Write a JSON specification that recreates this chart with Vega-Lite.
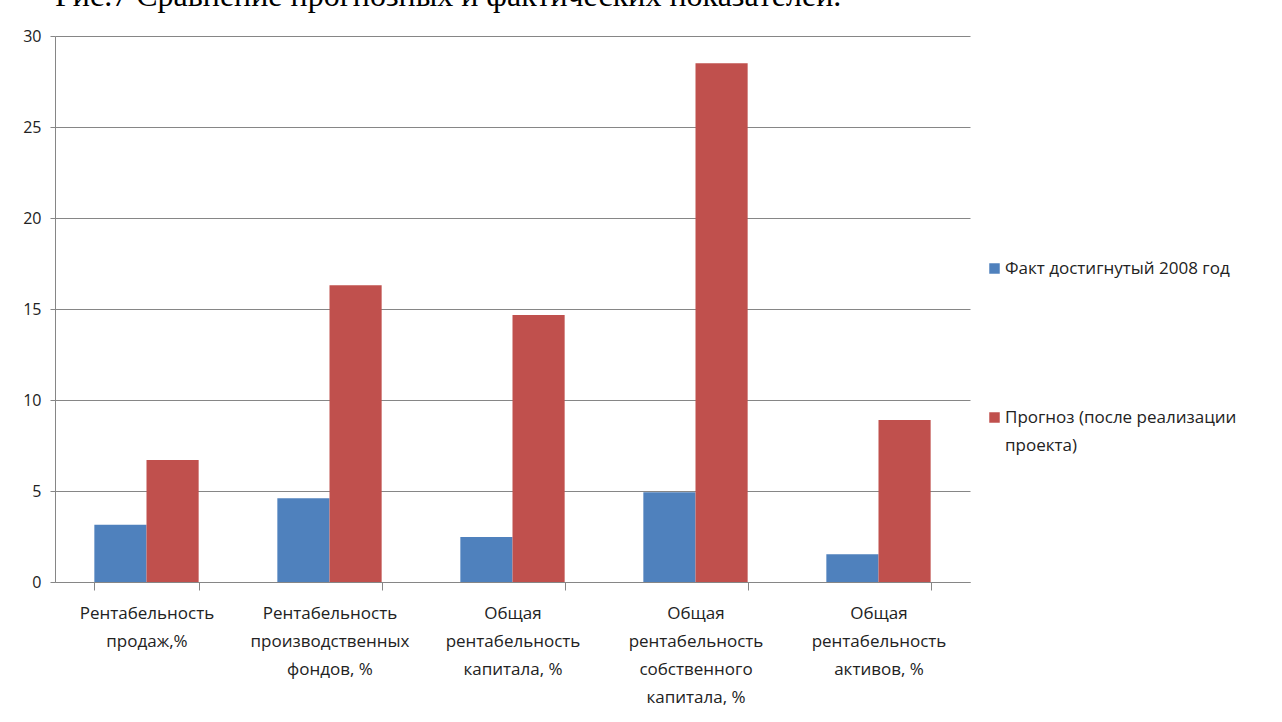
{
  "$schema": "https://vega.github.io/schema/vega-lite/v6.json",
  "autosize": "none",
  "width": 915,
  "height": 546,
  "padding": {"left": 55, "top": 36, "right": 312, "bottom": 140},
  "background": "white",
  "title": {
    "text": "Рис.7 Сравнение  прогнозных и фактических показателей.",
    "anchor": "start",
    "font": "Liberation Serif",
    "fontSize": 32,
    "fontWeight": "normal",
    "color": "#000000",
    "baseline": "alphabetic",
    "offset": -10,
    "frame": "group"
  },
  "data": {
    "values": [
      {"cat": "Рентабельность|продаж,%", "series": "Факт достигнутый 2008 год", "value": 3.15},
      {"cat": "Рентабельность|продаж,%", "series": "Прогноз (после реализации|проекта)", "value": 6.7},
      {"cat": "Рентабельность|производственных|фондов, %", "series": "Факт достигнутый 2008 год", "value": 4.6},
      {"cat": "Рентабельность|производственных|фондов, %", "series": "Прогноз (после реализации|проекта)", "value": 16.3},
      {"cat": "Общая|рентабельность|капитала, %", "series": "Факт достигнутый 2008 год", "value": 2.47},
      {"cat": "Общая|рентабельность|капитала, %", "series": "Прогноз (после реализации|проекта)", "value": 14.67},
      {"cat": "Общая|рентабельность|собственного|капитала, %", "series": "Факт достигнутый 2008 год", "value": 4.93},
      {"cat": "Общая|рентабельность|собственного|капитала, %", "series": "Прогноз (после реализации|проекта)", "value": 28.5},
      {"cat": "Общая|рентабельность|активов, %", "series": "Факт достигнутый 2008 год", "value": 1.53},
      {"cat": "Общая|рентабельность|активов, %", "series": "Прогноз (после реализации|проекта)", "value": 8.9}
    ]
  },
  "mark": {"type": "bar"},
  "encoding": {
    "x": {
      "field": "cat",
      "type": "nominal",
      "sort": null,
      "title": null,
      "scale": {"paddingInner": 0.43, "paddingOuter": 0.215},
      "axis": {
        "labelAngle": 0,
        "labelExpr": "split(datum.label, '|')",
        "labelFont": "Open Sans",
        "labelFontSize": 17,
        "labelColor": "#222222",
        "labelLineHeight": 28,
        "labelPadding": 15,
        "labelBaseline": "top",
        "labelLimit": 300,
        "tickBand": "extent",
        "tickSize": 8,
        "tickColor": "#868686",
        "domainColor": "#868686",
        "grid": false
      }
    },
    "xOffset": {"field": "series", "type": "nominal", "sort": null},
    "y": {
      "field": "value",
      "type": "quantitative",
      "title": null,
      "scale": {"domain": [0, 30], "nice": false},
      "axis": {
        "values": [0, 5, 10, 15, 20, 25, 30],
        "labelFont": "Open Sans",
        "labelFontSize": 16,
        "labelColor": "#222222",
        "labelPadding": 9,
        "tickSize": 5,
        "tickColor": "#868686",
        "domainColor": "#868686",
        "gridColor": "#868686",
        "gridWidth": 1
      }
    },
    "color": {
      "field": "series",
      "type": "nominal",
      "sort": null,
      "scale": {"range": ["#4F81BD", "#C0504D"]},
      "legend": {
        "title": null,
        "orient": "none",
        "legendX": 931,
        "legendY": 224,
        "symbolType": "square",
        "symbolSize": 110,
        "symbolStrokeWidth": 0,
        "labelFont": "Open Sans",
        "labelFontSize": 17,
        "labelColor": "#222222",
        "labelExpr": "split(datum.label, '|')",
        "labelLimit": 400,
        "rowPadding": 131,
        "labelOffset": 2,
        "encode": {"labels": {"update": {"lineHeight": {"value": 28}}}}
      }
    }
  },
  "config": {"view": {"stroke": null}}
}
